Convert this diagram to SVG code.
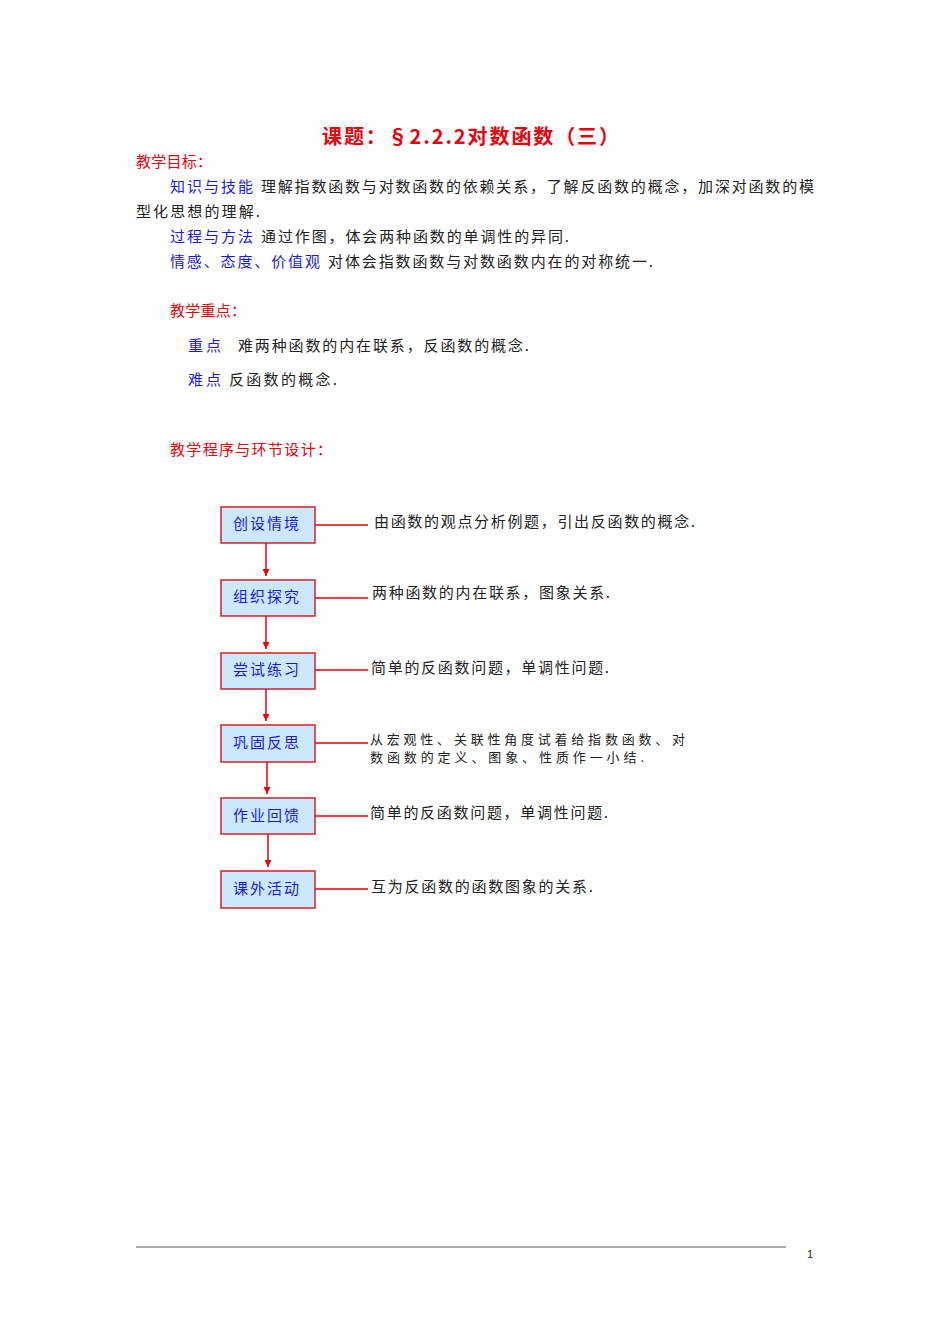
<svg xmlns="http://www.w3.org/2000/svg" width="950" height="1344" viewBox="0 0 950 1344">
<style>
text{font-family:"Noto Sans CJK SC","Liberation Serif",serif;font-size:15px;fill:#222}
.r{fill:#e8000b}
.bl{fill:#1a1adf}
.box{fill:#cce8ff;stroke:#d0202a;stroke-width:1.5}
.ln{stroke:#e8000b;stroke-width:1.5;fill:none}
.bt{fill:#1a1adf;text-anchor:middle}
</style>
<defs><marker id="a" viewBox="0 0 10 10" refX="10" refY="5" markerWidth="7" markerHeight="7" orient="auto" markerUnits="userSpaceOnUse"><path d="M0,0L10,5L0,10z" fill="#e8000b"/></marker></defs>
<rect width="950" height="1344" fill="#fff"/>
<text x="322" y="144" class="r" style="font-size:20px;font-weight:bold" textLength="297">课题：§2.2.2对数函数（三）</text>
<text x="136" y="167" class="r" textLength="76">教学目标：</text>
<text x="170" y="192" class="bl" textLength="83">知识与技能</text>
<text x="261" y="192" textLength="553">理解指数函数与对数函数的依赖关系，了解反函数的概念，加深对函数的模</text>
<text x="136" y="217" textLength="124">型化思想的理解.</text>
<text x="170" y="242" class="bl" textLength="83">过程与方法</text>
<text x="261" y="242" textLength="308">通过作图，体会两种函数的单调性的异同.</text>
<text x="170" y="267" class="bl" textLength="150">情感、态度、价值观</text>
<text x="328" y="267" textLength="325">对体会指数函数与对数函数内在的对称统一.</text>
<text x="170" y="316" class="r" textLength="76">教学重点：</text>
<text x="188" y="351" class="bl" textLength="33">重点</text>
<text x="238" y="351" textLength="291">难两种函数的内在联系，反函数的概念.</text>
<text x="188" y="385" class="bl" textLength="33">难点</text>
<text x="229" y="385" textLength="108">反函数的概念.</text>
<text x="170" y="455" class="r" textLength="162">教学程序与环节设计：</text>
<g id="connectors">
<path class="ln" d="M266 543V576" marker-end="url(#a)"/>
<path class="ln" d="M266 616V649" marker-end="url(#a)"/>
<path class="ln" d="M266 689V721" marker-end="url(#a)"/>
<path class="ln" d="M267 762V794" marker-end="url(#a)"/>
<path class="ln" d="M268 834V867" marker-end="url(#a)"/>
<path class="ln" d="M315 525H368M315 598H368M315 670H368M315 743H368M315 816H368M315 889H368"/>
</g>
<g id="n1"><rect class="box" x="221" y="507" width="94" height="36"/><text class="bt" x="266" y="529" textLength="66">创设情境</text></g>
<g id="n2"><rect class="box" x="221" y="580" width="94" height="36"/><text class="bt" x="266" y="602" textLength="66">组织探究</text></g>
<g id="n3"><rect class="box" x="221" y="653" width="94" height="36"/><text class="bt" x="266" y="675" textLength="66">尝试练习</text></g>
<g id="n4"><rect class="box" x="221" y="725" width="94" height="37"/><text class="bt" x="266" y="748" textLength="66">巩固反思</text></g>
<g id="n5"><rect class="box" x="221" y="798" width="94" height="36"/><text class="bt" x="266" y="821" textLength="66">作业回馈</text></g>
<g id="n6"><rect class="box" x="221" y="871" width="94" height="37"/><text class="bt" x="266" y="894" textLength="66">课外活动</text></g>
<text x="374" y="527" textLength="321">由函数的观点分析例题，引出反函数的概念.</text>
<text x="372" y="598" textLength="238">两种函数的内在联系，图象关系.</text>
<text x="371" y="673" textLength="238">简单的反函数问题，单调性问题.</text>
<text x="370" y="744" textLength="315" style="font-size:13px">从宏观性、关联性角度试着给指数函数、对</text>
<text x="370" y="762" textLength="274" style="font-size:13px">数函数的定义、图象、性质作一小结.</text>
<text x="370" y="818" textLength="238">简单的反函数问题，单调性问题.</text>
<text x="371" y="892" textLength="222">互为反函数的函数图象的关系.</text>
<line x1="136" y1="1247" x2="786" y2="1247" stroke="#555" stroke-width="1"/>
<text x="807" y="1258" style="font-size:11px;font-family:'Liberation Sans',sans-serif">1</text>
</svg>
